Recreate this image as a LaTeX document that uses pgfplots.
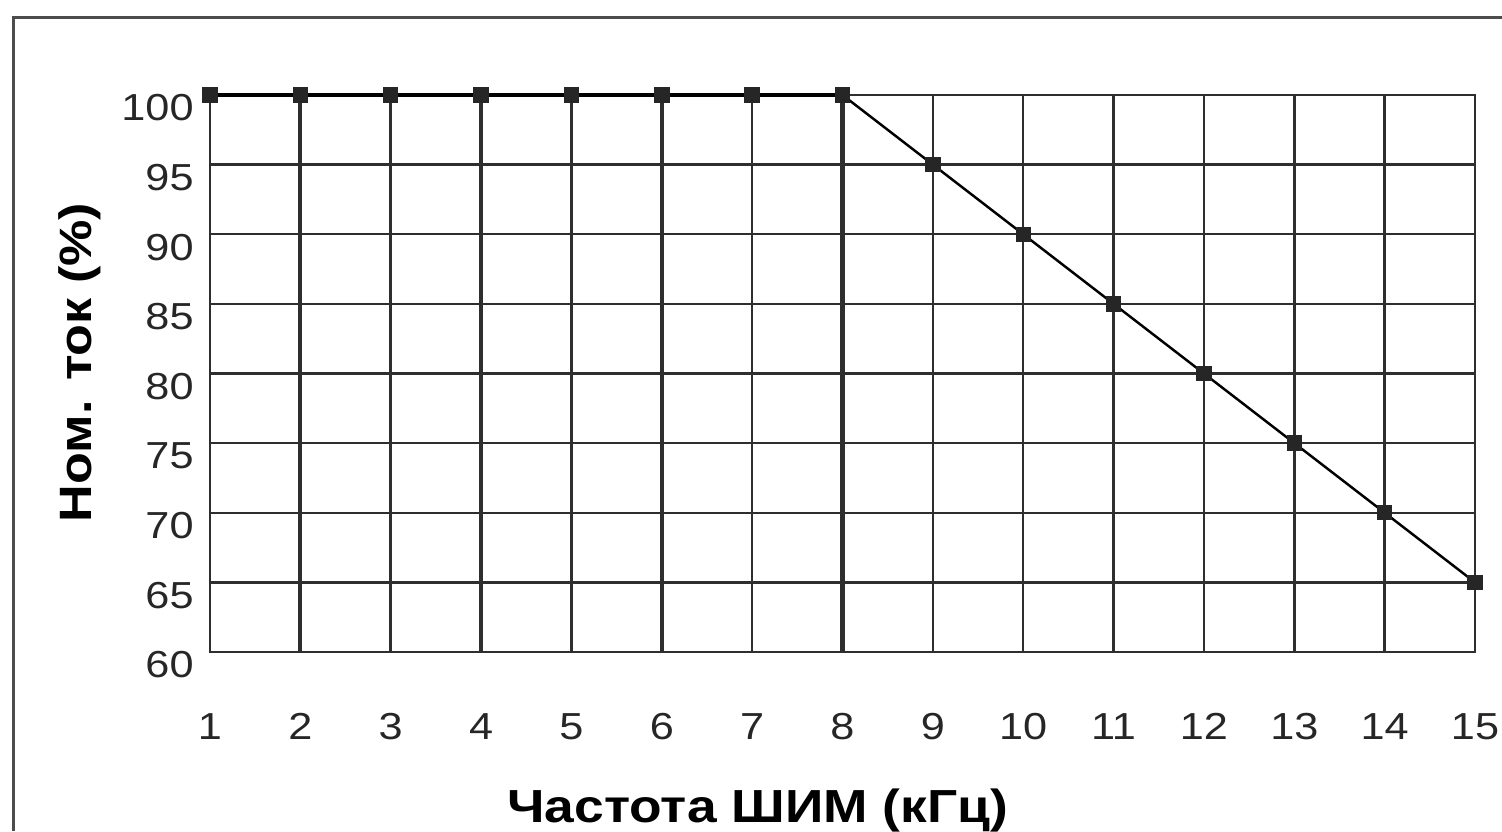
\documentclass[border=0pt]{standalone}
\usepackage{fontspec}
\setmainfont[FakeStretch=1.15]{Liberation Sans}
\usepackage{pgfplots}
\pgfplotsset{compat=1.18}
\definecolor{gridc}{HTML}{2E2E2E}
\begin{document}
\begin{tikzpicture}
\useasboundingbox (0,0) rectangle (15.02cm,8.31cm);
\draw[line width=0.3mm, black!70] (0.13cm,0) -- (0.13cm,8.13cm) -- (15.02cm,8.13cm);
\begin{axis}[
  at={(2.10cm,1.79cm)}, anchor=south west,
  scale only axis, width=12.65cm, height=5.57cm,
  xmin=1, xmax=15, ymin=60, ymax=100,
  xtick={1,...,15}, ytick={60,65,...,100},
  major tick length=0pt,
  grid=major,
  grid style={gridc, line width=0.7pt},
  axis line style={gridc, line width=0.75pt},
  extra x ticks={2,4,6,8},
  extra x tick labels={},
  extra x tick style={grid style={gridc, line width=1.2pt}},
  /pgf/number format/assume math mode=true,
  tick label style={font=\fontsize{10.7}{12}\selectfont, text=black!85},
  xticklabel style={yshift=-4.9mm},
  yticklabel style={yshift=-1.3mm, xshift=-0.4mm},
  xlabel={Частота ШИМ (кГц)},
  ylabel={Ном. ток (\%)},
  xlabel style={at={(axis description cs:0.433,-0.284)}, anchor=center, font=\bfseries\fontsize{13.2}{15}\selectfont},
  ylabel style={at={(axis description cs:-0.103,0.52)}, anchor=center, font=\bfseries\fontsize{12.9}{15}\selectfont},
  clip=false,
]
\addplot[black, line width=1.3pt, mark=square*, mark size=0.72mm, mark options={fill=black!85, draw=black!85, line width=0.3pt}] coordinates {
 (1,100) (2,100) (3,100) (4,100) (5,100) (6,100) (7,100) (8,100)
};
\addplot[black, line width=0.7pt, mark=square*, mark size=0.72mm, mark options={fill=black!85, draw=black!85, line width=0.3pt}] coordinates {
 (8,100) (9,95) (10,90) (11,85) (12,80) (13,75) (14,70) (15,65)
};
\end{axis}
\end{tikzpicture}
\end{document}
